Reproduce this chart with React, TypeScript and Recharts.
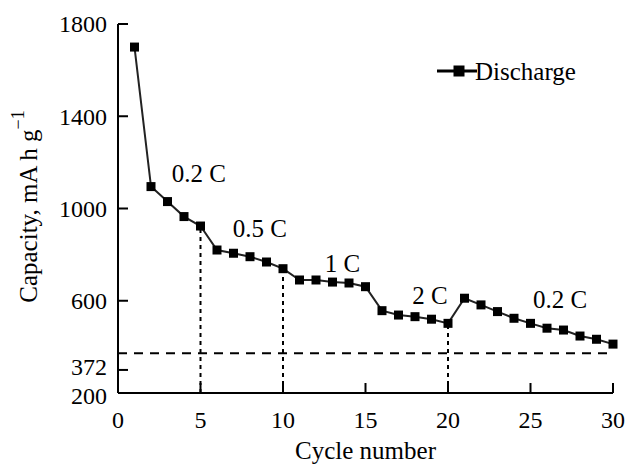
import React from 'react';
import {
  LineChart, Line, XAxis, YAxis, ReferenceLine, ReferenceDot, Legend,
} from 'recharts';

const FONT = '"Liberation Serif", "Times New Roman", serif';
const FS = 25;
const TICK_FS = 24;

const cycles = Array.from({ length: 30 }, (_, i) => i + 1);
const discharge = [
  1700, 1095, 1030, 965, 924, 820, 806, 791, 768, 739,
  690, 690, 681, 677, 661, 557, 538, 531, 520, 502,
  611, 582, 553, 524, 502, 481, 473, 447, 433, 412,
];
const xTicks = [0, 5, 10, 15, 20, 25, 30];
const yTicks = [200, 300, 600, 1000, 1400, 1800];
// the "372" tick sits below the dashed 372 line in the original figure
const yTickLabels: Record<number, string> = { 300: '372' };
const theoreticalCapacity = 372;
const rateChangeCycles = [5, 10, 20];
const rateLabels = ['0.2 C', '0.5 C', '1 C', '2 C', '0.2 C'];
const rateLabelX = [4.9, 8.6, 13.6, 18.9, 26.8];
const rateLabelY = [1154, 917, 762, 625, 606];

const data = cycles.map((c, i) => ({ cycle: c, discharge: discharge[i] }));

const SquareDot = (props: any) => {
  const { cx, cy, index } = props;
  if (cx == null || cy == null) return null;
  return <rect key={`dot-${index}`} x={cx - 4.5} y={cy - 4.5} width={9} height={9} fill="#000" />;
};

// 200 and 372 labels sit very close together, nudge them apart a little
const YTick = (props: any) => {
  const { x, y, payload } = props;
  const v = payload.value;
  const nudge = v === 200 ? 3 : v === 300 ? -3 : 0;
  return (
    <text
      x={x}
      y={y + nudge}
      dy="0.35em"
      textAnchor="end"
      fontSize={TICK_FS}
      fontFamily={FONT}
      fill="#000"
    >
      {yTickLabels[v] ?? String(v)}
    </text>
  );
};

const DischargeLegend = () => (
  <svg width={180} height={24} style={{ overflow: 'visible', display: 'block' }}>
    <line x1={0} y1={12} x2={40} y2={12} stroke="#000" strokeWidth={3} />
    <rect x={16.5} y={6.5} width={11} height={11} fill="#000" />
    <text x={38} y={12} dominantBaseline="central" fontSize={FS} fontFamily={FONT} fill="#000">
      Discharge
    </text>
  </svg>
);

const YLabel = (props: any) => {
  const { viewBox } = props;
  const cx = viewBox.x - 10;
  const cy = viewBox.y + viewBox.height / 2 - 2;
  return (
    <text
      x={cx}
      y={cy}
      transform={`rotate(-90, ${cx}, ${cy})`}
      textAnchor="middle"
      dominantBaseline="central"
      fontSize={FS}
      fontFamily={FONT}
      fill="#000"
    >
      Capacity, mA h g
      <tspan dy={-10} fontSize={18}>−1</tspan>
    </text>
  );
};

const XLabel = (props: any) => {
  const { viewBox } = props;
  return (
    <text
      x={viewBox.x + viewBox.width / 2}
      y={viewBox.y + 66}
      textAnchor="middle"
      fontSize={FS}
      fontFamily={FONT}
      fill="#000"
    >
      Cycle number
    </text>
  );
};

export default function App() {
  const tickStyle = { fontSize: TICK_FS, fontFamily: FONT, fill: '#000' };
  return (
    <div style={{ position: 'absolute', left: 0, top: 0, background: '#fff' }}>
      <LineChart width={627} height={464} data={data} margin={{ top: 24, right: 14, bottom: 31, left: 38 }}>
        <XAxis
          dataKey="cycle"
          type="number"
          domain={[0, 30]}
          ticks={xTicks}
          interval={0}
          height={40}
          axisLine={{ stroke: '#000', strokeWidth: 2 }}
          tickLine={{ stroke: '#000', strokeWidth: 2 }}
          tickSize={-10}
          tickMargin={28}
          tick={tickStyle}
          label={<XLabel />}
        />
        <YAxis
          type="number"
          domain={[200, 1800]}
          ticks={yTicks}
          interval={0}
          width={80}
          axisLine={{ stroke: '#000', strokeWidth: 2 }}
          tickLine={{ stroke: '#000', strokeWidth: 2 }}
          tickSize={-10}
          tickMargin={21}
          tick={<YTick />}
          label={<YLabel />}
        />
        <ReferenceLine
          y={theoreticalCapacity}
          stroke="#000"
          strokeWidth={2}
          strokeDasharray="9 7"
        />
        {rateChangeCycles.map((c) => (
          <ReferenceLine
            key={`rate-${c}`}
            segment={[{ x: c, y: 200 }, { x: c, y: discharge[c - 1] }]}
            stroke="#000"
            strokeWidth={2}
            strokeDasharray="4 4"
          />
        ))}
        {rateLabels.map((label, i) => (
          <ReferenceDot
            key={`lbl-${i}`}
            x={rateLabelX[i]}
            y={rateLabelY[i]}
            r={0}
            fill="none"
            stroke="none"
            label={{ value: label, position: 'center', fontSize: FS, fontFamily: FONT, fill: '#000' }}
          />
        ))}
        <Line
          type="linear"
          dataKey="discharge"
          name="Discharge"
          stroke="#222"
          strokeWidth={2}
          dot={SquareDot}
          activeDot={false}
          isAnimationActive={false}
        />
        <Legend
          layout="horizontal"
          verticalAlign="middle"
          align="center"
          content={<DischargeLegend />}
          wrapperStyle={{ top: 59, left: 437, width: 180, height: 24 }}
        />
      </LineChart>
    </div>
  );
}
